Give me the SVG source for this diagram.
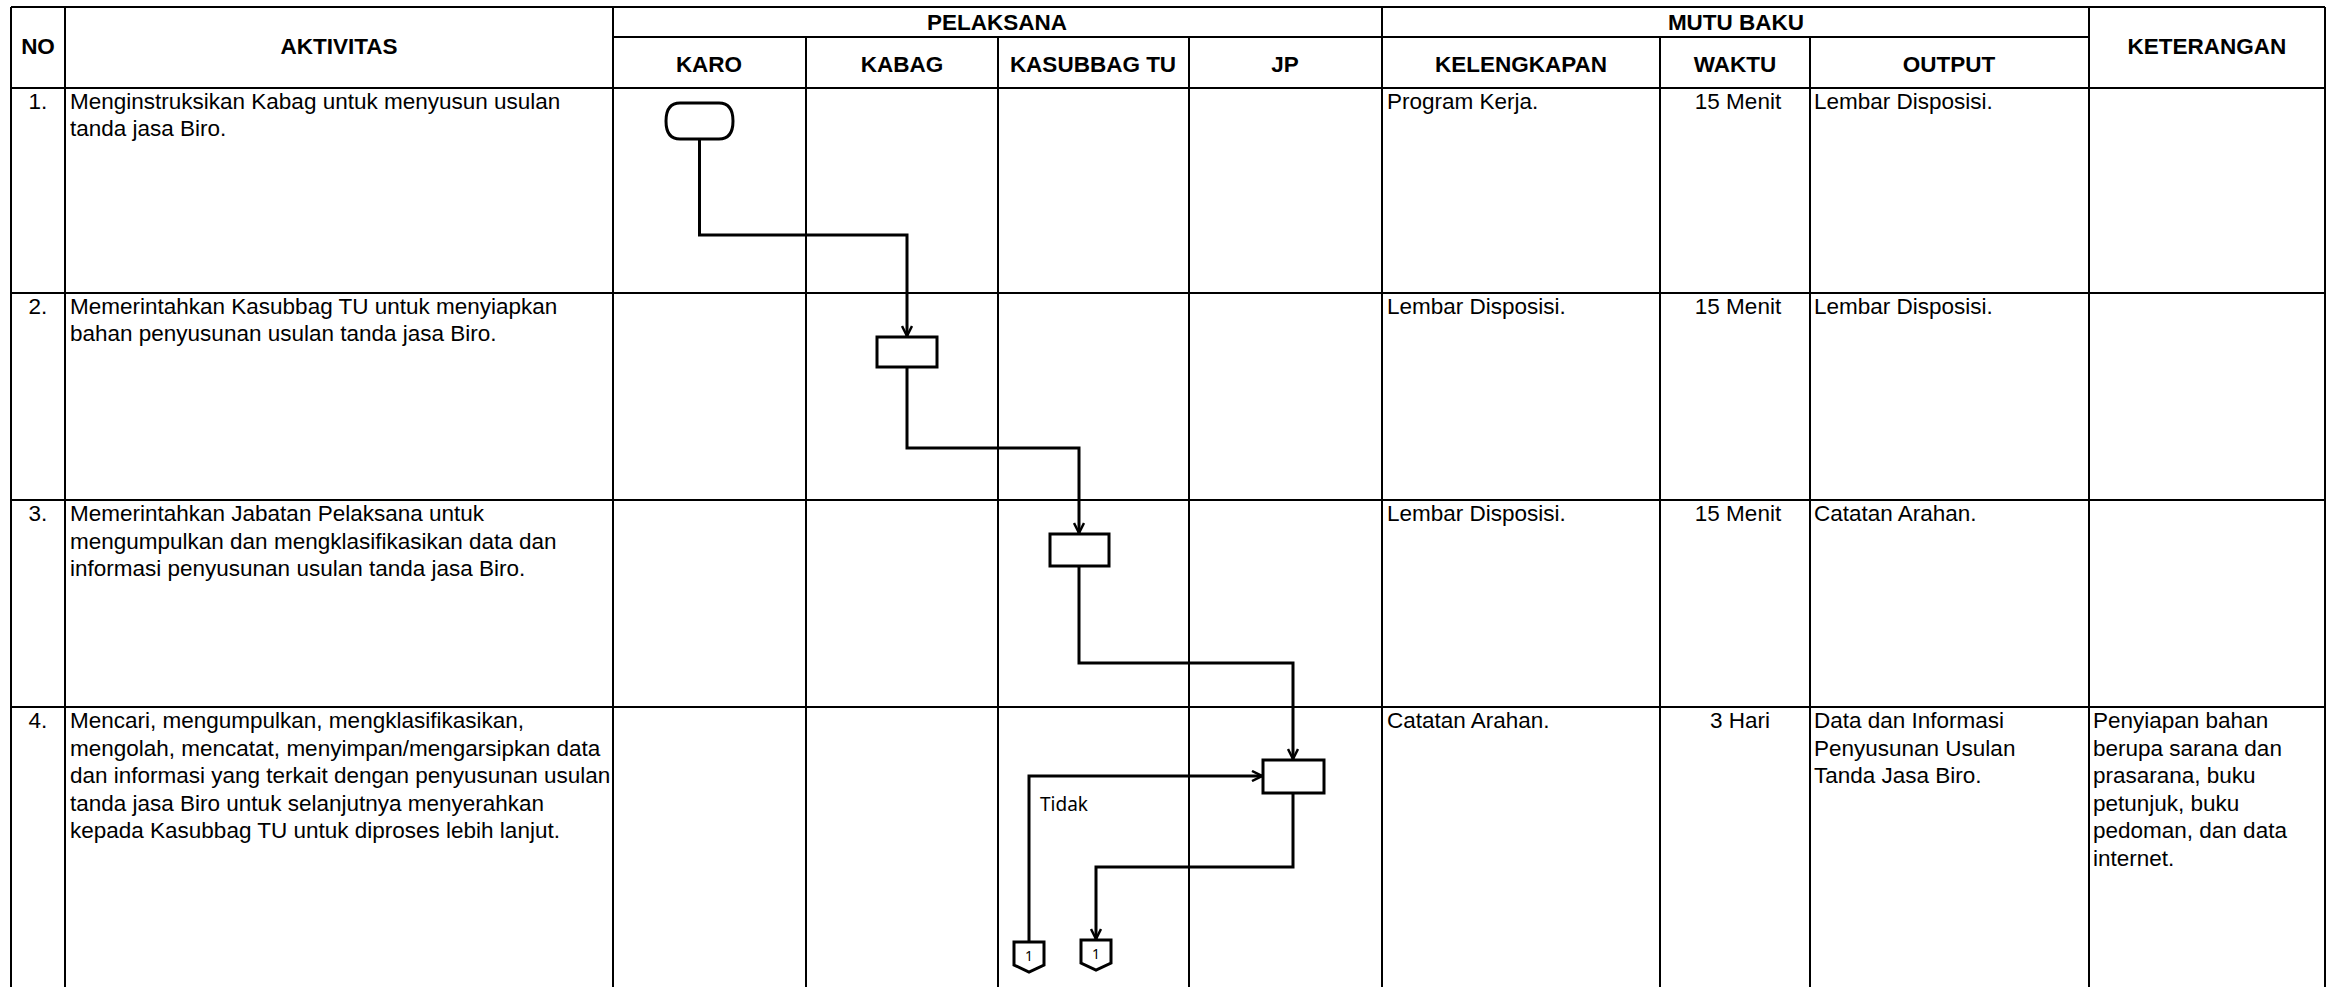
<svg xmlns="http://www.w3.org/2000/svg" width="2328" height="987" viewBox="0 0 2328 987">
<style>
.grid{stroke:#000;stroke-width:2;fill:none}
.h{font-family:"Liberation Sans",Arial,sans-serif;font-weight:bold;font-size:22.5px;text-anchor:middle;fill:#000}
.t{font-family:"Liberation Sans",Arial,sans-serif;font-size:22.5px;fill:#000}
.c{text-anchor:middle}
.shape{fill:#fff;stroke:#000;stroke-width:3}
.conn{fill:none;stroke:#000;stroke-width:3}
.lbl{font-family:"Noto Sans","Open Sans",sans-serif;font-size:19px;fill:#000}
.num{font-family:"Noto Sans","Open Sans",sans-serif;font-size:14px;fill:#000;text-anchor:middle}
</style>
<defs>
<marker id="arr" viewBox="0 0 12 12" refX="11" refY="6" markerWidth="12" markerHeight="12" markerUnits="userSpaceOnUse" orient="auto">
<path d="M1,1 L11,6 L1,11" fill="none" stroke="#000" stroke-width="2.5"/>
</marker>
</defs>
<rect width="2328" height="987" fill="#fff"/>
<g id="table">
<path class="grid" d="M11,7 H2325 M613,37 H1382 M1382,37 H2089 M11,88 H2325 M11,293 H2325 M11,500 H2325 M11,707 H2325
M11,7 V987 M65,7 V987 M613,7 V987 M806,37 V987 M998,37 V987 M1189,37 V987 M1382,7 V987 M1660,37 V987 M1810,37 V987 M2089,7 V987 M2325,7 V987"/>
<text class="h" x="38" y="54">NO</text>
<text class="h" x="339" y="54">AKTIVITAS</text>
<text class="h" x="997" y="30">PELAKSANA</text>
<text class="h" x="1736" y="30">MUTU BAKU</text>
<text class="h" x="2207" y="54">KETERANGAN</text>
<text class="h" x="709" y="72">KARO</text>
<text class="h" x="902" y="72">KABAG</text>
<text class="h" x="1093" y="72">KASUBBAG TU</text>
<text class="h" x="1285" y="72">JP</text>
<text class="h" x="1521" y="72">KELENGKAPAN</text>
<text class="h" x="1735" y="72">WAKTU</text>
<text class="h" x="1949" y="72">OUTPUT</text>
</g>
<g id="row1">
<text class="t c" x="38" y="109">1.</text>
<text class="t" x="70" y="109">Menginstruksikan Kabag untuk menyusun usulan</text>
<text class="t" x="70" y="136">tanda jasa Biro.</text>
<text class="t" x="1387" y="109">Program Kerja.</text>
<text class="t c" x="1738" y="109">15 Menit</text>
<text class="t" x="1814" y="109">Lembar Disposisi.</text>
</g>
<g id="row2">
<text class="t c" x="38" y="314">2.</text>
<text class="t" x="70" y="314">Memerintahkan Kasubbag TU untuk menyiapkan</text>
<text class="t" x="70" y="341">bahan penyusunan usulan tanda jasa Biro.</text>
<text class="t" x="1387" y="314">Lembar Disposisi.</text>
<text class="t c" x="1738" y="314">15 Menit</text>
<text class="t" x="1814" y="314">Lembar Disposisi.</text>
</g>
<g id="row3">
<text class="t c" x="38" y="521">3.</text>
<text class="t" x="70" y="521">Memerintahkan Jabatan Pelaksana untuk</text>
<text class="t" x="70" y="548.5">mengumpulkan dan mengklasifikasikan data dan</text>
<text class="t" x="70" y="576">informasi penyusunan usulan tanda jasa Biro.</text>
<text class="t" x="1387" y="521">Lembar Disposisi.</text>
<text class="t c" x="1738" y="521">15 Menit</text>
<text class="t" x="1814" y="521">Catatan Arahan.</text>
</g>
<g id="row4">
<text class="t c" x="38" y="728">4.</text>
<text class="t" x="70" y="728">Mencari, mengumpulkan, mengklasifikasikan,</text>
<text class="t" x="70" y="755.5">mengolah, mencatat, menyimpan/mengarsipkan data</text>
<text class="t" x="70" y="783">dan informasi yang terkait dengan penyusunan usulan</text>
<text class="t" x="70" y="810.5">tanda jasa Biro untuk selanjutnya menyerahkan</text>
<text class="t" x="70" y="838">kepada Kasubbag TU untuk diproses lebih lanjut.</text>
<text class="t" x="1387" y="728">Catatan Arahan.</text>
<text class="t c" x="1740" y="728">3 Hari</text>
<text class="t" x="1814" y="728">Data dan Informasi</text>
<text class="t" x="1814" y="755.5">Penyusunan Usulan</text>
<text class="t" x="1814" y="783">Tanda Jasa Biro.</text>
<text class="t" x="2093" y="728">Penyiapan bahan</text>
<text class="t" x="2093" y="755.5">berupa sarana dan</text>
<text class="t" x="2093" y="783">prasarana, buku</text>
<text class="t" x="2093" y="810.5">petunjuk, buku</text>
<text class="t" x="2093" y="838">pedoman, dan data</text>
<text class="t" x="2093" y="865.5">internet.</text>
</g>
<g id="connectors">
<path class="conn" d="M699.5,139 V235 H907 V336" marker-end="url(#arr)"/>
<path class="conn" d="M907,367 V448 H1079 V533" marker-end="url(#arr)"/>
<path class="conn" d="M1079,566 V663 H1293 V759" marker-end="url(#arr)"/>
<path class="conn" d="M1029,942 V776 H1262" marker-end="url(#arr)"/>
<path class="conn" d="M1293,793 V867 H1096 V939" marker-end="url(#arr)"/>
<text class="lbl" x="1040" y="811">Tidak</text>
</g>
<g id="start">
<path class="shape" d="M680,103 H719 Q733,103 733,121 Q733,139 719,139 H680 Q666,139 666,121 Q666,103 680,103 Z"/>
</g>
<g id="proc-kabag">
<rect class="shape" x="877" y="337" width="60" height="30"/>
</g>
<g id="proc-kasubbag">
<rect class="shape" x="1050" y="534" width="59" height="32"/>
</g>
<g id="proc-jp">
<rect class="shape" x="1263" y="760" width="61" height="33"/>
</g>
<g id="offpage-1a">
<path class="shape" stroke-width="2.5" d="M1014,942 H1044 V965 L1029,972 L1014,965 Z"/>
<text class="num" x="1029" y="961">1</text>
</g>
<g id="offpage-1b">
<path class="shape" stroke-width="2.5" d="M1081,940 H1111 V963 L1096,970 L1081,963 Z"/>
<text class="num" x="1096" y="959">1</text>
</g>
</svg>
